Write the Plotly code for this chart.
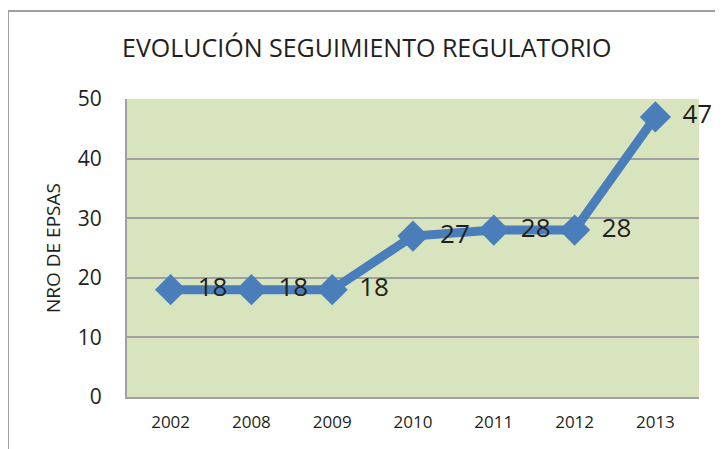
import plotly.graph_objects as go

years = ["2002", "2008", "2009", "2010", "2011", "2012", "2013"]
epsas = [18, 18, 18, 27, 28, 28, 47]
y_ticks = [0, 10, 20, 30, 40, 50]

OFF = 8  # page body margin offset
W, H = 723 - OFF, 449 - OFF
L, R, T, B = 127 - OFF, 24, 99 - OFF, 52
pw, ph = W - L - R, H - T - B

def px(x):
    return (x - OFF - L) / pw

def py(y):
    return (H - B - (y - OFF)) / ph

fig = go.Figure()
fig.add_trace(go.Scatter(
    x=years, y=epsas, mode="lines+markers+text",
    text=[" \u2009" + str(v) for v in epsas], textposition="middle right",
    textfont=dict(size=26, color="#231f20", family="Open Sans"),
    line=dict(color="#4a7ebb", width=9),
    marker=dict(symbol="diamond", size=24, color="#4a7ebb"),
    cliponaxis=False, showlegend=False,
))

fig.update_layout(
    width=W, height=H,
    margin=dict(l=L, r=R, t=T, b=B, autoexpand=False),
    paper_bgcolor="white", plot_bgcolor="#d7e4bd",
    title=dict(text="EVOLUCIÓN SEGUIMIENTO REGULATORIO", x=(122 - OFF) / W, xanchor="left",
               y=1 - (48 - OFF) / H, yanchor="middle",
               font=dict(size=25, color="#231f20", family="Open Sans")),
    font=dict(family="Open Sans", color="#231f20"),
)
fig.update_xaxes(type="category", showgrid=False, showline=True, linecolor="#a0a0a0", linewidth=2,
                 tickfont=dict(size=17), ticks="outside", ticklen=9, tickcolor="rgba(0,0,0,0)",
                 automargin=False)
fig.update_yaxes(range=[0, 50], tickvals=y_ticks, showgrid=True, gridcolor="#a0a0a0", gridwidth=2,
                 showline=True, linecolor="#a0a0a0", linewidth=2, zeroline=False,
                 tickfont=dict(size=21), ticks="outside", ticklen=19, tickcolor="rgba(0,0,0,0)",
                 automargin=False,
                 title=dict(text="NRO DE EPSAS", font=dict(size=19), standoff=12))

# outer chart border (left and top)
fig.add_shape(type="line", xref="paper", yref="paper", x0=px(8), x1=px(8), y0=py(11), y1=py(460),
              line=dict(color="#a0a0a0", width=2))
fig.add_shape(type="line", xref="paper", yref="paper", x0=px(7), x1=px(723), y0=py(11), y1=py(11),
              line=dict(color="#a0a0a0", width=2))

fig.write_html("out.html")
